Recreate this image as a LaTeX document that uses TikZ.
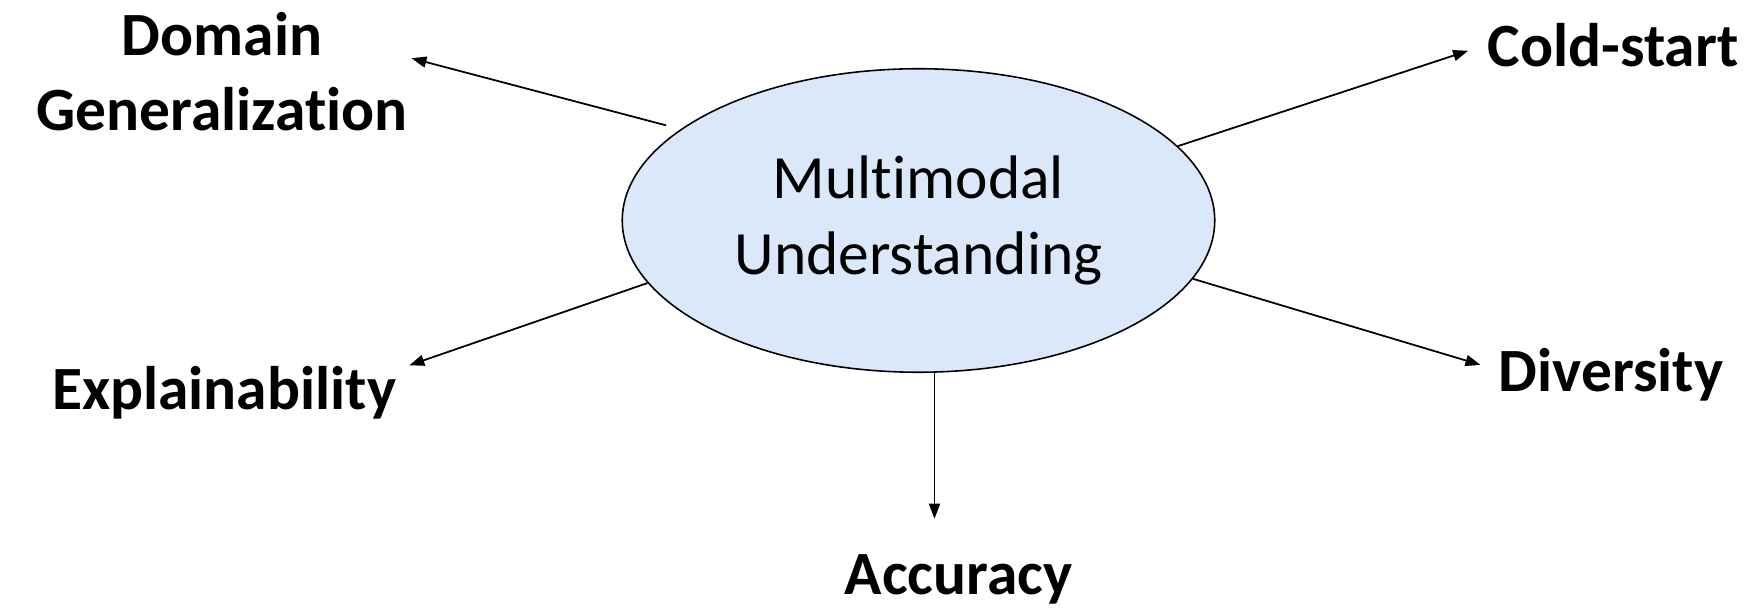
\documentclass[tikz,border=0pt]{standalone}
\usepackage{fontspec}
\setmainfont{Carlito}[Ligatures=NoCommon]
\usetikzlibrary{shapes.geometric,arrows.meta}
\definecolor{mmblue}{RGB}{218,232,250}
\tikzset{
  topic/.style={ellipse,draw,fill=mmblue,line width=0.9pt,minimum width=11.85cm,minimum height=6.07cm,inner sep=0pt,align=center,font=\fontsize{35}{43}\selectfont},
  goal/.style={inner sep=2pt,font=\fontsize{35}{43}\selectfont\bfseries},
  link/.style={-{Triangle[length=0.3cm,width=0.22cm]},line width=1pt}
}
\begin{document}
\begin{tikzpicture}
\useasboundingbox (0,0) rectangle (35.12,12.16);
\path  (18.37,7.75)node[topic] (nodeTopic) {Multimodal\\Understanding};
\path  (4.44,10.73)node[goal,align=center] (nodeDomain) {Domain\\Generalization};
\path  (32.26,10.82)node[goal,anchor=base] (nodeCold) {Cold-start};
\path  (4.48,3.96)node[goal,anchor=base] (nodeExpl) {Explainability};
\path  (32.22,4.32)node[goal,anchor=base] (nodeDiv) {Diversity};
\path  (19.17,0.27)node[goal,anchor=base] (nodeAcc) {Accuracy};
\draw[link,shorten <=0.3cm] (nodeTopic.159) -- (nodeDomain.4);
\draw[link,shorten >=0.33cm] (nodeTopic.16) -- (nodeCold.west);
\draw[link,shorten >=0.2cm] (nodeTopic.193) -- (nodeExpl.8);
\draw[link,shorten >=0.3cm] (nodeTopic.348) -- (nodeDiv.177);
\draw[link,shorten >=0.64cm] (nodeTopic.276) -- (nodeTopic.276 |- nodeAcc.north);
\end{tikzpicture}
\end{document}
